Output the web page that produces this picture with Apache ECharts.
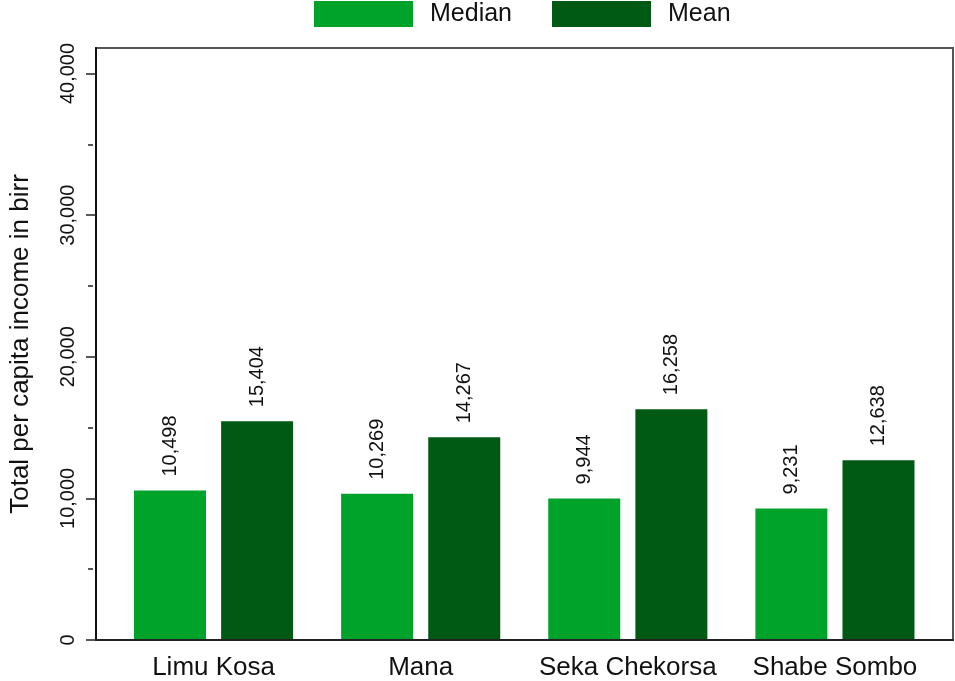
<!DOCTYPE html>
<html>
<head>
<meta charset="utf-8">
<script src="https://cdn.jsdelivr.net/npm/echarts@6/dist/echarts.min.js"></script>
<style>html,body{margin:0;padding:0;background:#fff}#c{width:955px;height:681px}</style>
</head>
<body>
<div id="c"></div>
<script>
const categories = ['Limu Kosa', 'Mana', 'Seka Chekorsa', 'Shabe Sombo'];
const medianValues = [10498, 10269, 9944, 9231];
const meanValues = [15404, 14267, 16258, 12638];
const yMajorTicks = [0, 10000, 20000, 30000, 40000];
const yMinorTicks = [5000, 15000, 25000, 35000];
const seriesNames = ['Median', 'Mean'];

const FONT = '"Liberation Sans", Arial, sans-serif';
const YMAX = 41800;
const fmt = v => Number(v).toLocaleString('en-US');

const chart = echarts.init(document.getElementById('c'), null, {renderer: 'canvas'});
const labelOpt = {
  show: true, position: 'top', rotate: 90, distance: 14,
  align: 'left', verticalAlign: 'middle',
  fontFamily: FONT, fontSize: 20, color: '#111',
  formatter: p => fmt(p.value)
};
chart.setOption({
  animation: false,
  backgroundColor: '#fff',
  legend: {
    top: 1, left: 314, padding: 0,
    itemWidth: 99, itemHeight: 26, itemGap: 40,
    icon: 'rect',
    textStyle: {fontFamily: FONT, fontSize: 25, color: '#111', padding: [5, 0, 0, 12]},
    data: seriesNames
  },
  grid: [
    {left: 110, right: 16.5, top: 48, bottom: 41, show: false},
    {left: 93, right: 2, top: 48, bottom: 41, show: true, borderColor: '#555', borderWidth: 2, backgroundColor: 'transparent'},
    {left: 93, right: 2, top: 48, bottom: 41, show: false}
  ],
  xAxis: [
    {gridIndex: 0, type: 'category', data: categories,
     axisLine: {show: false}, axisTick: {show: false},
     axisLabel: {interval: 0, margin: 16, fontFamily: FONT, fontSize: 26, color: '#111'}},
    {gridIndex: 1, type: 'value', min: 0, max: 1,
     axisLine: {show: true, lineStyle: {color: '#222', width: 2}},
     axisTick: {show: false}, axisLabel: {show: false}, splitLine: {show: false}},
    {gridIndex: 2, type: 'value', min: 0, max: 1, show: false}
  ],
  yAxis: [
    {gridIndex: 0, type: 'value', min: 0, max: YMAX, show: false},
    {gridIndex: 1, type: 'value', min: 0, max: YMAX,
     name: 'Total per capita income in birr', nameLocation: 'middle', nameGap: 62, nameRotate: 90,
     nameTextStyle: {fontFamily: FONT, fontSize: 26, color: '#111'},
     axisLine: {show: true, lineStyle: {color: '#111', width: 2}},
     axisTick: {show: true, length: 10, lineStyle: {color: '#222', width: 1.5}, customValues: yMajorTicks},
     axisLabel: {show: true, rotate: 90, margin: 18, fontFamily: FONT, fontSize: 20, color: '#111',
                 customValues: yMajorTicks, formatter: v => fmt(v)},
     splitLine: {show: false}},
    {gridIndex: 2, type: 'value', min: 0, max: YMAX,
     axisLine: {show: false},
     axisTick: {show: true, length: 5, lineStyle: {color: '#222', width: 1.5}, customValues: yMinorTicks},
     axisLabel: {show: false}, splitLine: {show: false}}
  ],
  series: [
    {name: seriesNames[0], type: 'bar', xAxisIndex: 0, yAxisIndex: 0, data: medianValues,
     barWidth: 72, barGap: '21%', itemStyle: {color: '#00A32A'}, label: labelOpt},
    {name: seriesNames[1], type: 'bar', xAxisIndex: 0, yAxisIndex: 0, data: meanValues,
     barWidth: 72, barGap: '21%', itemStyle: {color: '#005A13'}, label: labelOpt}
  ]
});
</script>
</body>
</html>
